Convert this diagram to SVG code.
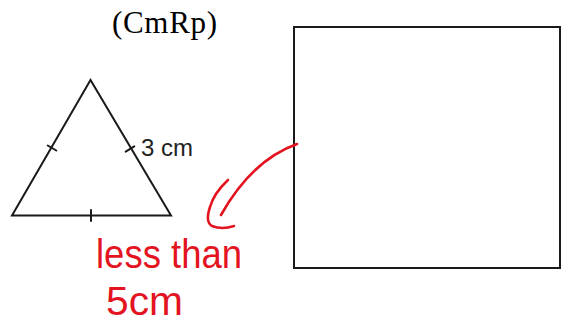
<svg xmlns="http://www.w3.org/2000/svg" width="569" height="322" viewBox="0 0 569 322">
<style>
.ln{fill:none;stroke:#1a1a1a;stroke-width:2;stroke-linecap:round;stroke-linejoin:miter}
.red{fill:none;stroke:#e3141f;stroke-width:2.6;stroke-linecap:round;stroke-linejoin:round}
.hand{font-family:"Liberation Sans",Arial,sans-serif;fill:#e3141f;font-size:40px}
</style>
<rect width="569" height="322" fill="#fff"/>
<text x="112" y="33" font-family="'Liberation Serif','Times New Roman',serif" font-size="31" fill="#000" textLength="105">(CmRp)</text>
<g id="triangle">
<polygon class="ln" points="90.5,80 12,215.5 171,215.5"/>
<line class="ln" x1="47.7" y1="145.5" x2="56.3" y2="150.5"/>
<line class="ln" x1="125.7" y1="151.6" x2="134.3" y2="146.4"/>
<line class="ln" x1="91" y1="210" x2="91" y2="221"/>
<text x="141" y="156" font-family="'Liberation Sans',Arial,sans-serif" font-size="24" fill="#222">3 cm</text>
</g>
<g id="square">
<rect class="ln" x="294" y="27" width="266" height="241"/>
</g>
<g id="connectors">
<path class="red" d="M297,144 Q252,160 221,215"/>
<path class="red" d="M228,180 Q214,193 210,207 Q205,222 212,226 Q222,230 234,226"/>
</g>
<g id="note">
<text class="hand" x="96" y="268" textLength="146" lengthAdjust="spacingAndGlyphs">less than</text>
<text class="hand" x="106" y="315" textLength="77" lengthAdjust="spacingAndGlyphs">5cm</text>
</g>
</svg>
